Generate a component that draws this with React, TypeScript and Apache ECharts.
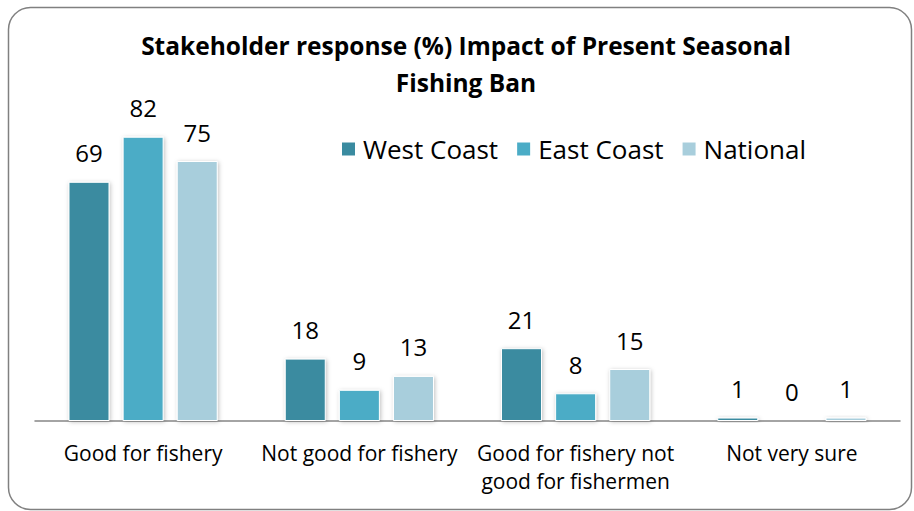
import React, { useEffect, useRef } from "react";
import * as echarts from "echarts";

const categories = [
  "Good for fishery",
  "Not good for fishery",
  "Good for fishery not\ngood for fishermen",
  "Not very sure",
];
const seriesNames = ["West Coast", "East Coast", "National"];
const westCoast = [69, 18, 21, 1];
const eastCoast = [82, 9, 8, 0];
const national = [75, 13, 15, 1];
const colors = ["#3A8BA0", "#4BACC6", "#A8CEDC"];
const titleText = "Stakeholder response (%) Impact of Present Seasonal\nFishing Ban";

const FONT = "'Open Sans', 'Noto Sans', sans-serif";

export default function App() {
  const ref = useRef<HTMLDivElement>(null);
  useEffect(() => {
    if (!ref.current) return;
    const chart = echarts.init(ref.current, undefined, { renderer: "svg" });
    const values = [westCoast, eastCoast, national];
    chart.setOption({
      animation: false,
      backgroundColor: "#ffffff",
      title: {
        text: titleText,
        left: 466,
        textAlign: "center",
        top: 27,
        padding: 0,
        textStyle: {
          fontFamily: FONT,
          fontWeight: "bold",
          fontSize: 24.5,
          lineHeight: 37,
          color: "#000",
        },
      },
      legend: {
        data: seriesNames,
        left: 340,
        top: 136,
        padding: 0,
        itemWidth: 15,
        itemHeight: 15,
        itemGap: 17,
        icon: "rect",
        textStyle: { fontFamily: FONT, fontSize: 26, color: "#000", padding: [0, 0, 0, 2] },
      },
      graphic: [
        {
          type: "rect",
          shape: { x: 8.5, y: 7.5, width: 903, height: 502, r: 22 },
          style: { fill: "none", stroke: "#808080", lineWidth: 1.5 },
          silent: true,
          z: 100,
        },
      ],
      grid: { left: 35, right: 14, top: 109, bottom: 90 },
      xAxis: {
        type: "category",
        data: categories,
        axisTick: { show: false },
        axisLine: { lineStyle: { color: "#868686", width: 1.5 } },
        axisLabel: {
          fontFamily: FONT,
          fontSize: 21,
          color: "#000",
          lineHeight: 28,
          margin: 18,
          interval: 0,
        },
      },
      yAxis: {
        type: "value",
        min: 0,
        max: 90,
        show: false,
        splitLine: { show: false },
      },
      series: seriesNames.map((name, i) => ({
        name,
        type: "bar",
        data: values[i],
        barWidth: 41,
        barGap: "32%",
        itemStyle: {
          color: colors[i],
          borderColor: "#ffffff",
          borderWidth: 1,
          shadowBlur: 4,
          shadowColor: "rgba(0,0,0,0.25)",
          shadowOffsetX: 1,
          shadowOffsetY: 1,
        },
        label: {
          show: true,
          position: "top",
          distance: 17,
          fontFamily: FONT,
          fontSize: 24,
          color: "#000",
        },
      })),
    });
    return () => chart.dispose();
  }, []);
  return (
    <div
      ref={ref}
      style={{ position: "absolute", left: 0, top: 0, width: 914, height: 511 }}
    />
  );
}
